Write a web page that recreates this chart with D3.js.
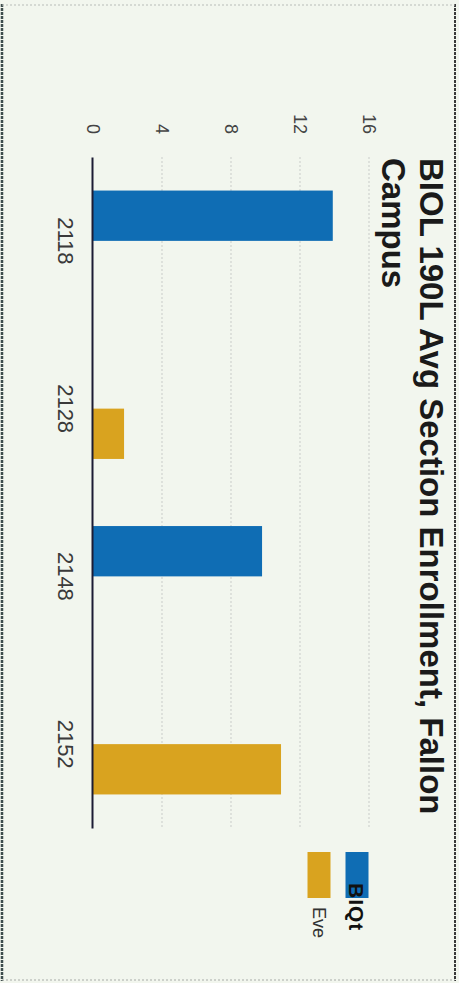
<!DOCTYPE html>
<html>
<head>
<meta charset="utf-8">
<script src="https://cdn.jsdelivr.net/npm/d3@7"></script>
<style>
  html, body { margin: 0; padding: 0; background: #f2f6ee; }
  svg { display: block; }
  text { font-family: "Liberation Sans", Arial, sans-serif; }
</style>
</head>
<body>
<svg id="chart" width="459" height="983"></svg>
<script>
// Sections and average enrollment per section
const categories = ["2118", "2128", "2148", "2152"];
const dayValues = [13.9, null, 9.8, null];
const eveValues = [null, 1.8, null, 10.9];
const valueTicks = [0, 4, 8, 12, 16];
const seriesNames = ["BIQt", "Eve"];
const seriesColors = ["#0f6db4", "#d9a31f"];
const titleLines = ["BIOL 190L Avg Section Enrollment, Fallon", "Campus"];

const pageW = 459, pageH = 983;
const svg = d3.select("#chart");

svg.append("rect").attr("width", pageW).attr("height", pageH).attr("fill", "#f2f6ee");

// Page frame
svg.append("line").attr("x1", 2).attr("x2", 2).attr("y1", 4).attr("y2", 981)
  .attr("stroke", "#3e4d4d").attr("stroke-width", 2.5).attr("stroke-dasharray", "3,1");
svg.append("line").attr("x1", 455).attr("x2", 455).attr("y1", 4).attr("y2", 981)
  .attr("stroke", "#3a3a3a").attr("stroke-width", 2).attr("stroke-dasharray", "3,1");
svg.append("line").attr("x1", 2).attr("x2", 455).attr("y1", 5).attr("y2", 5)
  .attr("stroke", "#b8bcb8").attr("stroke-width", 1).attr("stroke-dasharray", "2,2");
svg.append("line").attr("x1", 2).attr("x2", 455).attr("y1", 980).attr("y2", 980)
  .attr("stroke", "#a8aca8").attr("stroke-width", 1).attr("stroke-dasharray", "2,2");

// The chart is laid out landscape and turned a quarter turn clockwise
const W = pageH, H = pageW;
const g = svg.append("g").attr("transform", `translate(${pageW},0) rotate(90)`);

const plot = { left: 157, right: 828, top: 90, bottom: 366 };

const x = d3.scaleBand().domain(categories)
  .range([plot.left, plot.right]).paddingInner(0.4).paddingOuter(0.2);
const xSeries = d3.scaleBand().domain(seriesNames).range([0, x.bandwidth()]);
const y = d3.scaleLinear().domain([0, 16]).range([plot.bottom, plot.top]);

// Gridlines
g.append("g").selectAll("line").data(valueTicks.filter(v => v > 0)).join("line")
  .attr("x1", plot.left).attr("x2", plot.right)
  .attr("y1", d => y(d)).attr("y2", d => y(d))
  .attr("stroke", "#c9ccc9").attr("stroke-width", 1).attr("stroke-dasharray", "2,2");

// Value axis labels
const yAxis = g.append("g").attr("transform", `translate(${plot.left},0)`)
  .call(d3.axisLeft(y).tickValues(valueTicks).tickSize(0).tickPadding(23));
yAxis.select(".domain").remove();
yAxis.selectAll("text").attr("font-size", 18).attr("fill", "#444")
  .style("font-family", "Liberation Sans, Arial, sans-serif");

// Bars
const rows = categories.map((c, i) => ({ c, vals: [dayValues[i], eveValues[i]] }));
const groups = g.append("g").selectAll("g").data(rows).join("g")
  .attr("transform", d => `translate(${x(d.c)},0)`);
groups.selectAll("rect")
  .data(d => d.vals.map((v, k) => ({ v, k })).filter(e => e.v != null))
  .join("rect")
  .attr("x", e => xSeries(seriesNames[e.k]))
  .attr("width", xSeries.bandwidth())
  .attr("y", e => y(e.v))
  .attr("height", e => y(0) - y(e.v))
  .attr("fill", e => seriesColors[e.k]);

// Category axis
const xAxis = g.append("g").attr("transform", `translate(0,${plot.bottom})`)
  .call(d3.axisBottom(x).tickSize(0).tickPadding(19));
xAxis.select(".domain").attr("stroke", "#1c1c34").attr("stroke-width", 2);
xAxis.selectAll("text").attr("font-size", 22).attr("fill", "#3a3a3a")
  .style("font-family", "Liberation Sans, Arial, sans-serif");

// Title
g.append("text").attr("x", plot.left + 1).attr("y", 39)
  .attr("font-size", 33).attr("font-weight", "bold").attr("fill", "#1a1a1a")
  .selectAll("tspan").data(titleLines).join("tspan")
  .attr("x", plot.left + 1).attr("dy", (d, i) => i === 0 ? 0 : 38)
  .text(d => d);

// Legend
const legend = g.append("g");
const legendRows = [102, 140];
seriesNames.forEach((name, i) => {
  legend.append("rect").attr("x", 852).attr("y", legendRows[i] - 11.5)
    .attr("width", 46).attr("height", 23).attr("fill", seriesColors[i]);
});
legend.append("text").attr("x", 883).attr("y", legendRows[0]).attr("dy", "0.36em")
  .attr("font-size", 21).attr("font-weight", "bold").attr("fill", "#111")
  .attr("letter-spacing", 1)
  .text(seriesNames[0]);
legend.append("text").attr("x", 907).attr("y", legendRows[1]).attr("dy", "0.35em")
  .attr("font-size", 18).attr("fill", "#333")
  .text(seriesNames[1]);
</script>
</body>
</html>
